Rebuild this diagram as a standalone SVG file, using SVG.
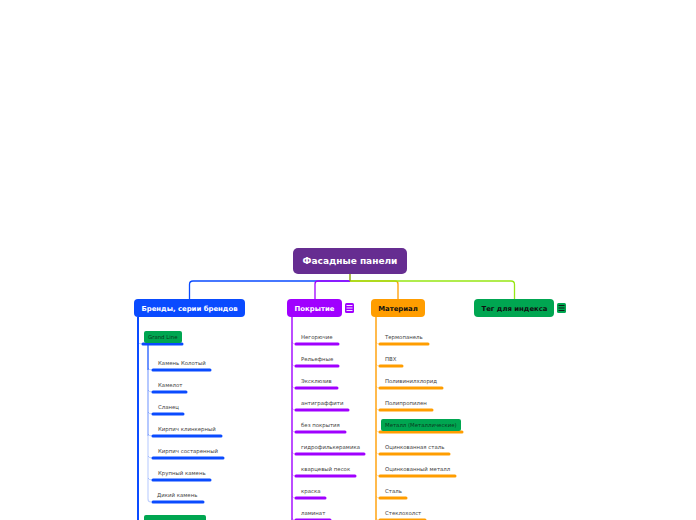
<svg xmlns="http://www.w3.org/2000/svg" width="696" height="520" viewBox="0 0 696 520">
<style>
text{font-family:"DejaVu Sans",sans-serif}
.m{font-size:6.900px;font-weight:700;text-anchor:middle}
.l{font-size:5.400px;fill:#444}
.c{fill:none;stroke-width:1.300}
.u{fill:none;stroke-width:3;stroke-linecap:round}
.b{fill:none;stroke-width:.8;opacity:.35}
.t{stroke-width:.9;fill:none}
</style>
<rect width="696" height="520" fill="#fff"/>
<g id="connectors">
<path class="c" stroke="#0a4bff" d="M350 281H193q-3.500 0-3.500 3.500V299"/>
<path class="c" stroke="#a000ff" d="M350 281H318q-3 0-3 3V299"/>
<path class="c" stroke="#ff9d00" d="M350 281H395q3 0 3 3V299"/>
<path class="c" stroke="#96e614" d="M350 281H511q3.500 0 3.500 3.500V299"/>
<path stroke="#9aaa20" stroke-width="1.600" fill="none" d="M350 273V281"/>
<path stroke="#0a4bff" stroke-width="2" fill="none" d="M138 317V520"/>
<path stroke="#a000ff" stroke-width="1.400" fill="none" d="M292 317V520"/>
<path stroke="#ff9d00" stroke-width="1.400" fill="none" d="M376 317V520"/>
<path stroke="#0a4bff" stroke-width="1.200" fill="none" d="M148 344V370"/>
<path stroke="#0a4bff" stroke-width="1.200" fill="none" opacity=".5" d="M148 370V436"/>
<path stroke="#0a4bff" stroke-width="1.200" fill="none" opacity=".25" d="M148 436V499q0 3 3 3"/>
<g stroke="#0a4bff"><path class="b" d="M138 342q1 2 4 2M148 368q1 2 4 2M148 390q1 2 4 2M148 412q1 2 4 2M148 434q1 2 4 2M148 456q1 2 4 2M148 478q1 2 4 2"/></g>
<g stroke="#a000ff"><path class="b" d="M292 342q1 2 3 2M292 364q1 2 3 2M292 386q1 2 3 2M292 408q1 2 3 2M292 430q1 2 3 2M292 452q1 2 3 2M292 474q1 2 3 2M292 496q1 2 3 2M292 518q1 2 3 2"/></g>
<g stroke="#ff9d00"><path class="b" d="M376 342q1 2 3 2M376 364q1 2 3 2M376 386q1 2 3 2M376 408q1 2 3 2M376 430q1 2 3 2M376 452q1 2 3 2M376 474q1 2 3 2M376 496q1 2 3 2M376 518q1 2 3 2"/></g>
<g stroke="#0a4bff">
<path class="u" d="M143 344H182M153 370H210M153 392H186M153 414H183M153 436H221M153 458H223M153 480H210M153 502H203"/>
</g>
<g stroke="#a000ff">
<path class="u" d="M296 344H338M296 366H338M296 388H337M296 410H348M296 432H345M296 454H364M296 476H355M296 498H325M296 520H330"/>
</g>
<g stroke="#ff9d00">
<path class="u" d="M380 344H428M380 366H402M380 388H442M380 410H432M380 432H462M380 454H449M380 476H455M380 498H406M380 520H425"/>
</g>
</g>
<g id="root"><rect x="293" y="248" width="114" height="26" rx="5" fill="#662d91"/><text class="m" x="350" y="264" fill="#fff" style="font-size:9px">Фасадные панели</text></g>
<g id="brands"><rect x="134" y="299" width="111" height="18" rx="4" fill="#0a4bff"/><text class="m" x="189.500" y="311" fill="#fff">Бренды, серии брендов</text></g>
<g id="coating"><rect x="287" y="299" width="55" height="18" rx="4" fill="#a000ff"/><text class="m" x="314.500" y="311" fill="#fff">Покрытие</text><rect x="345" y="303" width="9" height="10" rx="1.500" fill="#a000ff"/><path class="t" stroke="#fff" d="M346.500 305.500H352.500M346.500 308H352.500M346.500 310.500H352.500"/></g>
<g id="material"><rect x="371" y="299" width="54" height="18" rx="4" fill="#ff9d00"/><text class="m" x="398" y="311" fill="#111">Материал</text></g>
<g id="tag"><rect x="474" y="299" width="80" height="18" rx="4" fill="#00a651"/><text class="m" x="514.500" y="311" fill="#111">Тег для индекса</text><rect x="557" y="303" width="9" height="10" rx="1.500" fill="#00a651"/><path class="t" stroke="#111" d="M558.500 305.500H564.500M558.500 308H564.500M558.500 310.500H564.500"/></g>
<g id="grandline"><rect x="144" y="331" width="38" height="12" rx="2" fill="#00a651"/><text class="l" x="148" y="339" style="fill:#0b3a20">Grand Line</text></g>
<g id="brand-items">
<text class="l" x="158" y="365">Камень Колотый</text>
<text class="l" x="158" y="387">Камелот</text>
<text class="l" x="158" y="409">Сланец</text>
<text class="l" x="158" y="431">Кирпич клинкерный</text>
<text class="l" x="158" y="453">Кирпич состаренный</text>
<text class="l" x="158" y="475">Крупный камень</text>
<text class="l" x="157" y="497">Дикий камень</text>
</g>
<g id="second-brand"><rect x="144" y="515" width="62" height="12" rx="2" fill="#00a651"/></g>
<g id="coating-items">
<text class="l" x="301" y="339">Негорючие</text>
<text class="l" x="301" y="361">Рельефные</text>
<text class="l" x="301" y="383">Эксклюзив</text>
<text class="l" x="301" y="405">антиграффити</text>
<text class="l" x="301" y="427">без покрытия</text>
<text class="l" x="301" y="449">гидрофилькерамика</text>
<text class="l" x="301" y="471">кварцевый песок</text>
<text class="l" x="301" y="493">краска</text>
<text class="l" x="301" y="515">ламинат</text>
</g>
<g id="material-items">
<text class="l" x="385" y="339">Термопанель</text>
<text class="l" x="385" y="361">ПВХ</text>
<text class="l" x="385" y="383">Поливинилхлорид</text>
<text class="l" x="385" y="405">Полипропилен</text>
<rect x="381" y="419" width="80" height="12" rx="2" fill="#00a651"/>
<text class="l" x="385" y="427" style="fill:#0b3a20">Металл (Металлические)</text>
<text class="l" x="385" y="449">Оцинкованная сталь</text>
<text class="l" x="385" y="471">Оцинкованный металл</text>
<text class="l" x="385" y="493">Сталь</text>
<text class="l" x="385" y="515">Стеклохолст</text>
</g>
</svg>
